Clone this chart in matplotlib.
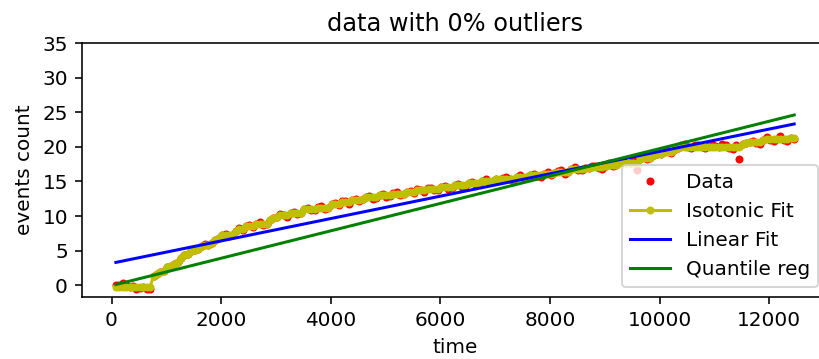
import matplotlib
matplotlib.use("Agg")
import matplotlib.pyplot as plt
import numpy as np

times = [80, 142, 205, 267, 330, 392, 455, 517, 580, 642, 705, 767, 830, 892, 955, 1017,
         1080, 1142, 1205, 1267, 1330, 1392, 1455, 1517, 1580, 1642, 1705, 1767, 1830,
         1892, 1955, 2017, 2080, 2142, 2205, 2267, 2330, 2392, 2455, 2517, 2580, 2642,
         2705, 2767, 2830, 2892, 2955, 3017, 3080, 3142, 3205, 3267, 3330, 3392, 3455,
         3517, 3580, 3642, 3705, 3767, 3830, 3892, 3955, 4017, 4080, 4142, 4205, 4267,
         4330, 4392, 4455, 4517, 4580, 4642, 4705, 4767, 4830, 4892, 4955, 5017, 5080,
         5142, 5205, 5267, 5330, 5392, 5455, 5517, 5580, 5642, 5705, 5767, 5830, 5892,
         5955, 6017, 6080, 6142, 6205, 6267, 6330, 6392, 6455, 6517, 6580, 6642, 6705,
         6767, 6830, 6892, 6955, 7017, 7080, 7142, 7205, 7267, 7330, 7392, 7455, 7517,
         7580, 7642, 7705, 7767, 7830, 7892, 7955, 8017, 8080, 8142, 8205, 8267, 8330,
         8392, 8455, 8517, 8580, 8642, 8705, 8767, 8830, 8892, 8955, 9017, 9080, 9142,
         9205, 9267, 9330, 9392, 9455, 9517, 9580, 9642, 9705, 9767, 9830, 9892, 9955,
         10017, 10080, 10142, 10205, 10267, 10330, 10392, 10455, 10517, 10580, 10642,
         10705, 10767, 10830, 10892, 10955, 11017, 11080, 11142, 11205, 11267, 11330,
         11392, 11455, 11517, 11580, 11642, 11705, 11767, 11830, 11892, 11955, 12017,
         12080, 12142, 12205, 12267, 12330, 12392, 12455]
counts = [0.1, 0.0, 0.3, 0.1, -0.2, -0.1, -0.5, -0.4, -0.3, -0.5, -0.6, 1.3, 1.6, 1.9,
          2.1, 2.6, 2.8, 3.0, 3.4, 3.9, 4.4, 4.5, 4.9, 5.1, 5.2, 5.6, 5.9, 5.8, 6.1,
          6.5, 6.8, 7.2, 7.4, 7.1, 7.3, 7.9, 8.2, 8.0, 8.5, 8.7, 8.4, 8.8,
          9.1, 8.7, 8.9, 9.4, 9.7, 9.9, 10.3, 10.1, 9.9, 10.4, 10.6, 10.3, 10.5,
          11.0, 11.2, 10.9, 10.8, 11.3, 11.4, 11.0, 11.2, 11.7, 11.9, 11.6, 12.1, 12.2,
          11.8, 12.3, 12.5, 12.2, 12.4, 12.8, 12.9, 12.5, 12.6, 13.0, 13.2, 12.8, 12.9,
          13.3, 13.4, 13.0, 13.2, 13.5, 13.6, 13.3, 13.9, 13.7, 13.5, 14.0, 14.1, 13.7,
          13.8, 14.2, 14.3, 13.9, 14.1, 14.5, 14.6, 14.2, 14.4, 14.8, 14.9, 14.5, 14.6,
          15.0, 15.3, 14.9, 15.0, 15.4, 15.2, 15.5, 15.7, 15.3, 15.1, 15.6, 15.9, 15.5,
          15.6, 16.0, 16.1, 15.8, 15.6, 16.1, 16.3, 15.9, 16.2, 16.5, 16.6, 16.1, 16.3,
          16.8, 17.1, 16.6, 16.7, 17.0, 16.9, 17.2, 17.3, 16.9, 16.8, 17.3, 17.6, 17.2,
          17.4, 17.8, 18.0, 17.6, 17.7, 18.1, 16.6, 18.3, 18.6, 18.2, 18.4, 18.8, 19.0,
          18.9, 19.3, 19.5, 19.1, 19.6, 19.9, 20.2, 20.4, 20.0, 19.8, 20.2,
          20.3, 20.0, 19.9, 20.3, 20.4, 20.1, 20.0, 20.4, 20.3, 19.9, 19.7,
          20.2, 18.2, 20.4, 20.6, 20.7, 20.9, 20.5, 20.4, 21.0, 21.4, 21.0,
          20.8, 21.1, 21.6, 21.0, 20.9, 21.3, 21.2]

# fitted straight lines, end values
fit_times = [80, 12455]
linear_fit = [3.3, 23.3]
quantile_fit = [0.1, 24.6]


def isotonic(y):
    # pool adjacent violators
    blocks = []
    for v in y:
        blocks.append([v, 1])
        while len(blocks) > 1 and blocks[-2][0] / blocks[-2][1] > blocks[-1][0] / blocks[-1][1]:
            s, c = blocks.pop()
            blocks[-1][0] += s
            blocks[-1][1] += c
    out = []
    for s, c in blocks:
        out += [s / c] * c
    return np.array(out)


iso = isotonic(counts)

fig = plt.figure(figsize=(819 / 144, 359 / 144), dpi=144)
ax = fig.add_axes([0.1001, 0.1727, 0.911, 0.7075])

ax.plot(times, counts, 'r.', label='Data')
ax.plot(times, iso, 'y.-', label='Isotonic Fit')
ax.plot(fit_times, linear_fit, 'b-', label='Linear Fit')
ax.plot(fit_times, quantile_fit, 'g-', label='Quantile reg')

ax.set_ylim(-1.7, 35)
ax.set_yticks(range(0, 36, 5))
ax.set_xlabel('time')
ax.set_ylabel('events count')
ax.set_title('data with 0% outliers')
ax.legend(loc='lower right')

fig.savefig('out.png', dpi=144)
